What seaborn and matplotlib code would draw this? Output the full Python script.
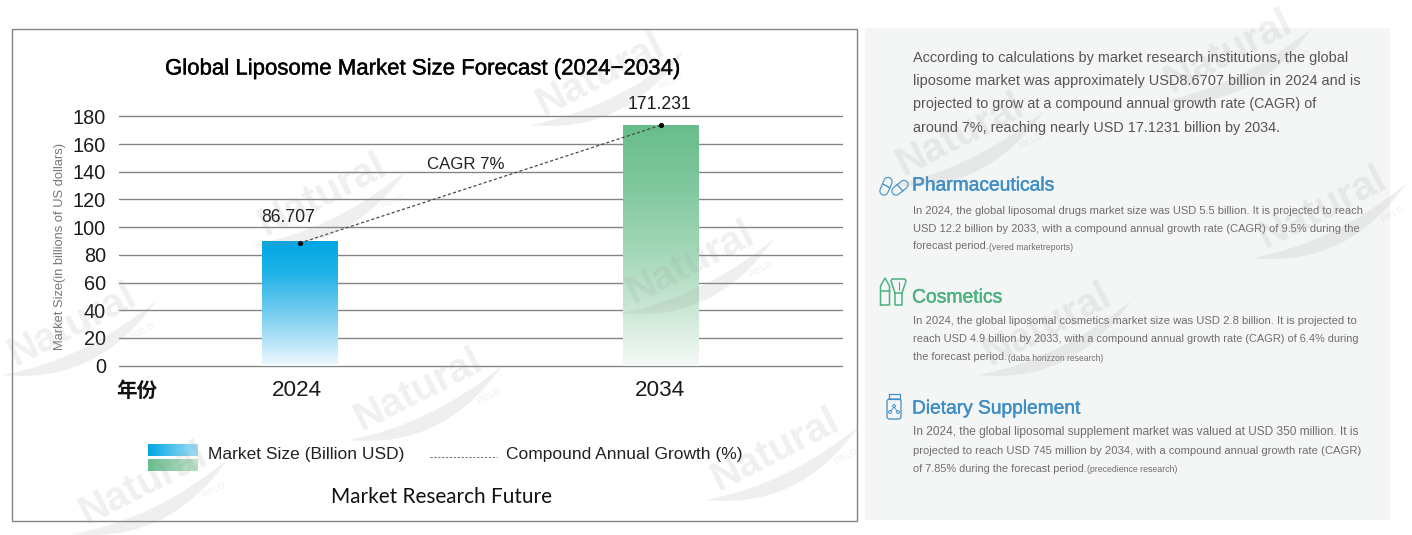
import numpy as np
import pandas as pd
import matplotlib
matplotlib.use('Agg')
import matplotlib.pyplot as plt
import seaborn as sns
from matplotlib.colors import LinearSegmentedColormap
from matplotlib.patches import FancyBboxPatch, PathPatch, Rectangle, Circle
from matplotlib.path import Path
import matplotlib.patheffects as pe

# chart data
years = ['2024', '2034']
bar_heights = [89.5, 173.7]
bar_labels = ['86.707', '171.231']
cagr_points = [88.5, 173.7]
y_ticks = list(range(0, 181, 20))

title = 'Global Liposome Market Size Forecast (2024\u22122034)'
y_title = 'Market Size(in billions of US dollars)'

# text for right panel: text, centre y, right
intro_lines = [
    ('According to calculations by market research institutions, the global', 57, 1346),
    ('liposome market was approximately USD8.6707 billion in 2024 and is', 80, 1357),
    ('projected to grow at a compound annual growth rate (CAGR) of', 103, 1314),
    ('around 7%, reaching nearly USD 17.1231 billion by 2034.', 127, 1281),
]
headings = [
    ('Pharmaceuticals', 184, 1054, '#3f8ec6'),
    ('Cosmetics', 296, 1002, '#4cb27f'),
    ('Dietary Supplement', 407, 1080, '#3f8ec6'),
]
body_lines = [
    ('In 2024, the global liposomal drugs market size was USD 5.5 billion. It is projected to reach', 210, 1362),
    ('USD 12.2 billion by 2033, with a compound annual growth rate (CAGR) of 9.5% during the', 228, 1362),
    ('forecast period.', 245, 989),
    ('In 2024, the global liposomal cosmetics market size was USD 2.8 billion. It is projected to', 320, 1362),
    ('reach USD 4.9 billion by 2033, with a compound annual growth rate (CAGR) of 6.4% during', 338, 1362),
    ('the forecast period.', 356.5, 1007),
    ('In 2024, the global liposomal supplement market was valued at USD 350 million. It is', 431, 1362),
    ('projected to reach USD 745 million by 2034, with a compound annual growth rate (CAGR)', 449.5, 1362),
    ('of 7.85% during the forecast period.', 467.5, 1087),
]
source_lines = [
    ('(vered marketreports)', 989, 246, 1072),
    ('(daba horizzon research)', 1008, 357.5, 1103),
    ('(precedience research)', 1087, 468.5, 1177),
]
logo_centres = [(600, 75), (322, 195), (72, 325), (690, 263), (418, 390), (143, 484),
                (775, 450), (960, 135), (1322, 208), (1047, 325), (1228, 52)]

W, H = 1412, 535
sns.set_theme(style='white', rc={'axes.grid': True})
plt.rcParams['font.family'] = ['Liberation Sans', 'Noto Sans CJK SC', 'DejaVu Sans']

fig = plt.figure(figsize=(W / 100, H / 100), dpi=100, facecolor='white')


def px_axes(x0, y0, x1, y1):
    return [x0 / W, 1 - y1 / H, (x1 - x0) / W, (y1 - y0) / H]


# background layer with the two panels
bg = fig.add_axes([0, 0, 1, 1], zorder=0)
bg.set_xlim(0, W)
bg.set_ylim(H, 0)
bg.axis('off')
bg.add_patch(Rectangle((865, 28), 525, 492, facecolor='#f4f6f6', edgecolor='none'))
bg.add_patch(Rectangle((11.5, 28.5), 845.5, 492, facecolor='white', edgecolor='#858585', linewidth=1.0))

# bar chart
ax = fig.add_axes(px_axes(119, 116.3, 842, 365.7), zorder=1)
ax.patch.set_alpha(0)
df = pd.DataFrame({'year': years, 'size': bar_heights})
sns.barplot(data=df, x='year', y='size', width=0.21, color='white', ax=ax, zorder=2)

gradients = [['#00a6e3', '#1fb2e8', '#62c6ee', '#a6def5', '#f0f9fd'],
             ['#68bd8c', '#7fc79d', '#a0d6b6', '#c8e6d3', '#f5f9f6']]
for patch, colors in zip(ax.patches, gradients):
    cmap = LinearSegmentedColormap.from_list('bar', colors)
    ext = [patch.get_x(), patch.get_x() + patch.get_width(), 0, patch.get_height()]
    ax.imshow(np.linspace(0, 1, 256).reshape(-1, 1), cmap=cmap, extent=ext,
              aspect='auto', origin='upper', zorder=3)
    patch.set_visible(False)

line_df = pd.DataFrame({'pos': [0, 1], 'cagr': cagr_points})
sns.lineplot(data=line_df, x='pos', y='cagr', ax=ax, color='#4a4a4a', linewidth=0.9,
             linestyle=(0, (2.5, 1.8)), zorder=4, clip_on=False)
sns.scatterplot(data=line_df, x='pos', y='cagr', ax=ax, color='black', s=14, zorder=5,
                linewidth=0, clip_on=False)

ax.set_xlim(-0.5, 1.5)
ax.set_ylim(0, 180)
ax.set_yticks(y_ticks)
ax.set_xticks([-0.008, 0.997])
ax.set_xticklabels(years)
ax.set_xlabel('')
ax.set_ylabel('')
ax.tick_params(axis='both', length=0, colors='#1a1a1a')
ax.tick_params(axis='y', pad=9.5, labelsize=14.3)
ax.tick_params(axis='x', pad=10.6, labelsize=16.2)
ax.grid(axis='y', color='#858585', linewidth=1.0, clip_on=False)
ax.grid(axis='x', visible=False)
ax.set_axisbelow(True)
sns.despine(ax=ax, left=True, bottom=True)
for label, xpos, val in zip(bar_labels, [-0.033, 0.995], [106.6, 188.5]):
    ax.text(xpos, val, label, ha='center', va='center', fontsize=12.7, color='#1a1a1a', clip_on=False)

# everything placed in pixels goes on a top layer
top = fig.add_axes([0, 0, 1, 1], zorder=2)
top.set_xlim(0, W)
top.set_ylim(H, 0)
top.axis('off')
top.patch.set_alpha(0)
renderer = fig.canvas.get_renderer()


def fit_text(txt, x, y, right, size, **kw):
    # scale font so that the line ends where it ends in the picture
    t = top.text(x, y + 1, txt, fontsize=size, va='center', ha='left', **kw)
    w = t.get_window_extent(renderer).width
    t.set_fontsize(size * (right - x) / w)
    return t


t = fit_text(title, 165, 68, 681, 15, color='black')
t.set_path_effects([pe.withStroke(linewidth=0.3, foreground='black')])
top.text(60, 246.5, y_title, rotation=90, fontsize=9.3, color='#777777', ha='center', va='center')
top.text(466, 164.5, 'CAGR 7%', fontsize=12.1, color='#222222', ha='center', va='center')
top.text(136.5, 390, '\u5e74\u4efd', fontsize=14.8, color='#111111', ha='center', va='center',
         family=['Noto Sans CJK SC'], fontweight='bold')

# legend
grad = np.linspace(0, 1, 128).reshape(1, -1)
for (y0, y1), colors in zip([(444, 456), (459, 471)],
                            [['#00a6e3', '#a6def5'], ['#68bd8c', '#bfe2cd']]):
    cmap = LinearSegmentedColormap.from_list('leg', colors)
    top.imshow(grad, cmap=cmap, extent=[148, 198, y1, y0], aspect='auto', zorder=2)
top.set_xlim(0, W)
top.set_ylim(H, 0)
fit_text('Market Size (Billion USD)', 208, 453, 404, 12, color='#222222')
top.plot([430, 497], [456.5, 456.5], color='#777777', linewidth=0.8, linestyle=(0, (2.0, 1.5)))
fit_text('Compound Annual Growth (%)', 506, 453, 743, 12, color='#222222')
fit_text('Market Research Future', 331, 496, 553, 15, color='#111111', family=['Lato'])

# right panel text
for txt, y, right in intro_lines:
    fit_text(txt, 913, y, right, 9.5, color='#555555')
for txt, y, right, col in headings:
    t = fit_text(txt, 912, y + 1, right, 13, color=col)
    t.set_path_effects([pe.withStroke(linewidth=0.3, foreground=col)])
for txt, y, right in body_lines:
    fit_text(txt, 913, y, right, 8, color='#6e6e6e')
for txt, x, y, right in source_lines:
    fit_text(txt, x, y, right, 5.5, color='#6e6e6e')

# icons
blue, green = '#3f8ec6', '#4cb27f'
panel = '#f4f6f6'
for (x0, y0, x1, y1) in [(884, 191, 888, 181.5), (896, 191, 904, 184.5)]:
    top.plot([x0, x1], [y0, y1], color=blue, linewidth=6.8, solid_capstyle='round')
    top.plot([x0, x1], [y0, y1], color=panel, linewidth=5.2, solid_capstyle='round')
top.plot([883, 890], [184, 188], color=blue, linewidth=0.9)
top.plot([897, 903], [184.5, 191], color=blue, linewidth=0.9)

top.plot([880.5, 880.5, 885, 889.5, 889.5, 880.5], [305, 286, 278, 286, 305, 305], color=green, linewidth=1.1)
top.plot([880.5, 889.5], [291, 291], color=green, linewidth=1.1)
top.plot([895, 895, 902, 902, 895], [293, 305, 305, 293, 293], color=green, linewidth=1.1)
top.plot([895, 891, 892, 905, 906, 902], [293, 281, 279, 279, 281, 293], color=green, linewidth=1.1)
top.plot([898.5, 898.5], [282, 290], color=green, linewidth=0.8)

top.add_patch(FancyBboxPatch((887, 399), 14, 20, boxstyle='round,pad=0,rounding_size=2.5',
                             facecolor='none', edgecolor=blue, linewidth=0.9))
top.add_patch(Rectangle((888.5, 393.5), 11, 5, facecolor='none', edgecolor=blue, linewidth=0.9))
for cx, cy in [(894, 406), (890, 412), (898, 412)]:
    top.add_patch(Circle((cx, cy), 1.4, facecolor='none', edgecolor=blue, linewidth=0.7))
top.plot([891, 894, 897], [411, 407, 411], color=blue, linewidth=0.6)

# watermark logos
for cx, cy in logo_centres:
    top.text(cx, cy, 'Natural', fontsize=29, fontweight='bold', color='#9a9a9a', alpha=0.15,
             rotation=27, rotation_mode='anchor', ha='center', va='center', zorder=6)
    top.text(cx + 70, cy + 6, 'FIELD', fontsize=6.5, color='#9a9a9a', alpha=0.15,
             rotation=27, rotation_mode='anchor', ha='center', va='center', zorder=6)
    swoosh = Path([(cx - 70, cy + 50), (cx + 25, cy + 60), (cx + 84, cy - 24),
                   (cx + 10, cy + 36), (cx - 70, cy + 50)],
                  [Path.MOVETO, Path.CURVE3, Path.CURVE3, Path.CURVE3, Path.CURVE3])
    top.add_patch(PathPatch(swoosh, facecolor='#9a9a9a', edgecolor='none', alpha=0.15, zorder=6))

fig.savefig('out.png', dpi=100)
